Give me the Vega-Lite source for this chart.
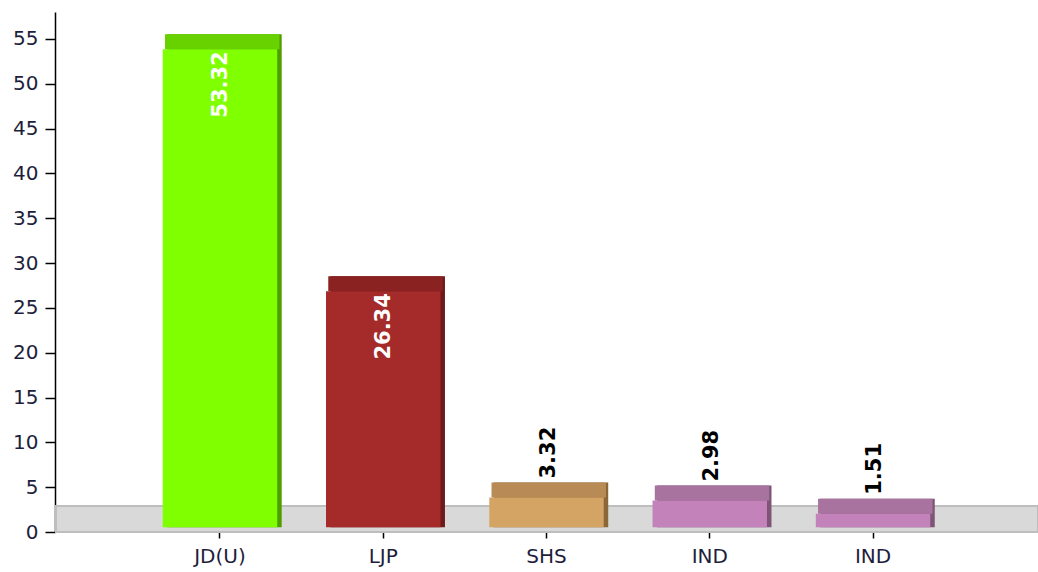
{
  "$schema": "https://vega.github.io/schema/vega-lite/v6.json",
  "width": 983,
  "height": 520,
  "autosize": "none",
  "padding": {"left": 55, "top": 12, "right": 0, "bottom": 40},
  "background": "white",
  "config": {"view": {"stroke": null}, "font": "DejaVu Sans"},
  "data": {
    "values": [
      {"key": "JD(U)", "party": "JD(U)", "value": 53.32},
      {"key": "LJP", "party": "LJP", "value": 26.34},
      {"key": "SHS", "party": "SHS", "value": 3.32},
      {"key": "IND#1", "party": "IND", "value": 2.98},
      {"key": "IND#2", "party": "IND", "value": 1.51}
    ]
  },
  "layer": [
    {
      "data": {"values": [{"floor": 1}]},
      "mark": {"type": "rect", "fill": "#D9D9D9", "stroke": "#BEBEBE", "strokeWidth": 2},
      "encoding": {
        "x": {"value": 1},
        "x2": {"value": "width"},
        "y": {"datum": 0, "type": "quantitative", "scale": {"domain": [0, 58], "nice": false},
          "axis": {
            "title": null, "grid": false, "values": [0, 5, 10, 15, 20, 25, 30, 35, 40, 45, 50, 55],
            "labelFontSize": 20, "labelColor": "#1E1E3C", "labelPadding": 7,
            "tickColor": "black", "tickSize": 10, "tickWidth": 1.5,
            "domainColor": "black", "domainWidth": 1.5
          }},
        "y2": {"datum": 2.9}
      }
    },
    {
      "mark": {"type": "bar", "xOffset": 4.5, "yOffset": -19.7, "y2Offset": -4.7},
      "encoding": {
        "x": {"field": "key", "type": "nominal", "sort": null,
          "scale": {"paddingInner": 0.299, "paddingOuter": 0.66},
          "axis": {
            "title": null, "domain": false, "labelAngle": 0,
            "labelExpr": "split(datum.label, '#')[0]",
            "labelFontSize": 20, "labelColor": "#1E1E3C", "labelPadding": 8,
            "tickColor": "black", "tickSize": 6, "tickWidth": 1.5
          }},
        "y": {"field": "value", "type": "quantitative"},
        "y2": {"datum": 0},
        "color": {"field": "party", "type": "nominal", "legend": null,
          "scale": {"domain": ["JD(U)", "LJP", "SHS", "IND"], "range": ["#4F9E00", "#6E1A1A", "#8A6638", "#7E5577"]}}
      }
    },
    {
      "mark": {"type": "bar", "xOffset": 2.25, "yOffset": -19.7, "y2Offset": -4.7},
      "encoding": {
        "x": {"field": "key", "type": "nominal", "sort": null},
        "y": {"field": "value", "type": "quantitative"},
        "y2": {"field": "value"},
        "color": {"field": "party", "type": "nominal", "legend": null,
          "scale": {"domain": ["JD(U)", "LJP", "SHS", "IND"], "range": ["#68D200", "#8B2222", "#B88A55", "#A8739E"]}}
      }
    },
    {
      "mark": {"type": "bar", "yOffset": -4.7, "y2Offset": -4.7},
      "encoding": {
        "x": {"field": "key", "type": "nominal", "sort": null},
        "y": {"field": "value", "type": "quantitative"},
        "y2": {"datum": 0},
        "color": {"field": "party", "type": "nominal", "legend": null,
          "scale": {"domain": ["JD(U)", "LJP", "SHS", "IND"], "range": ["#80FF00", "#A52A2A", "#D4A464", "#C482BA"]}}
      }
    },
    {
      "transform": [{"filter": "datum.value > 10"}],
      "mark": {"type": "text", "angle": 270, "align": "right", "baseline": "middle", "dx": -2, "yOffset": -4.7, "xOffset": 1, "fontSize": 21, "fontWeight": "bold", "fill": "white"},
      "encoding": {
        "x": {"field": "key", "type": "nominal", "sort": null},
        "y": {"field": "value", "type": "quantitative"},
        "text": {"field": "value", "type": "quantitative", "format": ".2f"}
      }
    },
    {
      "transform": [{"filter": "datum.value <= 10"}],
      "mark": {"type": "text", "angle": 270, "align": "left", "baseline": "middle", "dx": 19, "yOffset": -4.7, "xOffset": 2, "fontSize": 21, "fontWeight": "bold", "fill": "black"},
      "encoding": {
        "x": {"field": "key", "type": "nominal", "sort": null},
        "y": {"field": "value", "type": "quantitative"},
        "text": {"field": "value", "type": "quantitative", "format": ".2f"}
      }
    }
  ],
  "resolve": {"scale": {"color": "independent"}}
}
